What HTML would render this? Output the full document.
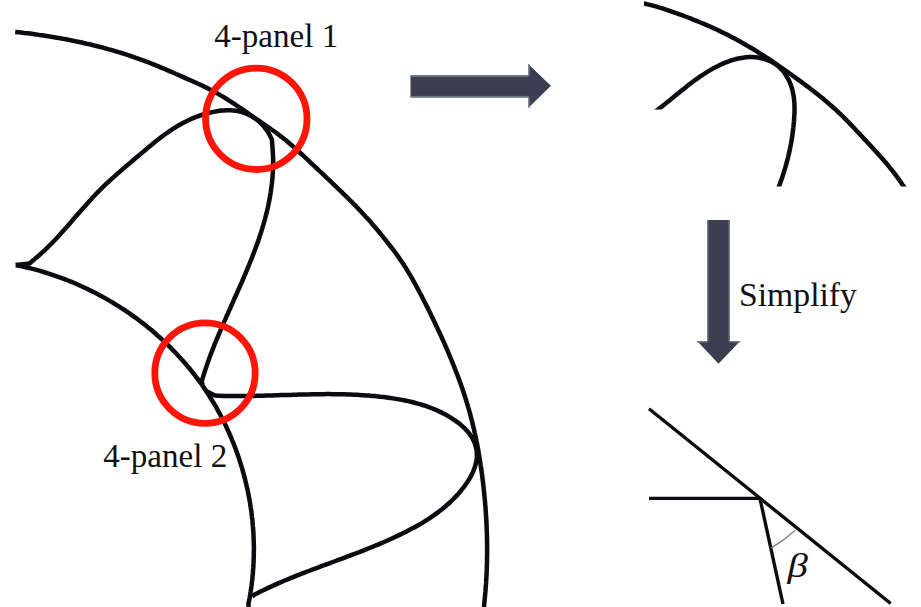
<!DOCTYPE html>
<html><head><meta charset="utf-8">
<style>
html,body{margin:0;padding:0;background:#fff;}
body{width:921px;height:607px;overflow:hidden;position:relative;}
svg{position:absolute;left:0;top:0;}
.t{font-family:"Liberation Serif",serif;fill:#111;}
</style></head><body>
<svg width="921" height="607" viewBox="0 0 921 607">
<g fill="none" stroke="#0b0b10" stroke-width="4.5" stroke-linecap="butt" stroke-linejoin="round">
<path d="M15.2 31.9 L18.2 32.2 L21.2 32.5 L24.2 32.9 L27.2 33.2 L30.2 33.6 L33.2 34.0 L36.1 34.4 L39.1 34.9 L42.1 35.3 L45.1 35.8 L48.1 36.2 L51.1 36.7 L54.0 37.2 L57.0 37.7 L60.0 38.2 L63.0 38.8 L65.9 39.3 L68.9 39.9 L71.9 40.5 L74.8 41.1 L77.8 41.7 L80.7 42.3 L83.7 43.0 L86.6 43.7 L89.6 44.3 L92.5 45.0 L95.4 45.8 L98.4 46.5 L101.3 47.2 L104.2 48.0 L107.1 48.8 L110.0 49.6 L112.9 50.4 L115.8 51.3 L118.7 52.2 L121.6 53.0 L124.5 53.9 L127.3 54.9 L130.2 55.8 L133.0 56.8 L135.9 57.8 L138.7 58.8 L141.6 59.8 L144.4 60.8 L147.2 61.9 L150.0 63.0 L152.8 64.1 L155.6 65.2 L158.4 66.4 L161.2 67.6 L163.9 68.7 L166.7 69.9 L169.5 71.1 L172.2 72.3 L175.0 73.5 L177.8 74.7 L180.5 75.9 L183.3 77.1 L186.0 78.4 L188.8 79.6 L191.6 80.8 L194.3 82.0 L197.0 83.3 L199.8 84.5 L202.5 85.8 L205.2 87.1 L207.9 88.4 L210.6 89.8 L213.2 91.2 L215.9 92.6 L218.5 94.1 L221.1 95.6 L223.7 97.2 L226.2 98.7 L228.8 100.3 L231.3 102.0 L233.9 103.6 L236.4 105.3 L238.9 107.0 L241.4 108.7 L243.9 110.4 L246.4 112.1 L248.9 113.8 L251.3 115.5 L253.8 117.3 L256.3 119.0 L258.8 120.7 L261.3 122.4 L263.8 124.1 L266.3 125.8 L268.8 127.5 L271.2 129.3 L273.7 131.0 L276.1 132.7 L278.5 134.5 L280.9 136.4 L283.3 138.2 L285.6 140.1 L287.9 142.0 L290.2 144.0 L292.5 145.9 L294.8 147.9 L297.0 150.0 L299.2 152.0 L301.5 154.0 L303.7 156.1 L305.9 158.1 L308.1 160.2 L310.3 162.3 L312.5 164.4 L314.7 166.4 L316.9 168.5 L319.1 170.6 L321.3 172.6 L323.5 174.7 L325.7 176.8 L327.9 178.9 L330.1 180.9 L332.2 183.0 L334.4 185.1 L336.6 187.2 L338.8 189.3 L341.0 191.4 L343.1 193.5 L345.3 195.6 L347.4 197.7 L349.6 199.8 L351.7 201.9 L353.8 204.1 L355.9 206.2 L358.0 208.4 L360.1 210.6 L362.1 212.8 L364.2 215.0 L366.2 217.2 L368.3 219.4 L370.3 221.6 L372.2 223.9 L374.2 226.2 L376.2 228.5 L378.1 230.8 L380.0 233.1 L381.9 235.4 L383.8 237.8 L385.7 240.1 L387.5 242.5 L389.4 244.9 L391.2 247.3 L393.1 249.6 L394.9 252.0 L396.7 254.5 L398.4 256.9 L400.1 259.4 L401.8 261.8 L403.5 264.3 L405.1 266.9 L406.7 269.4 L408.2 272.0 L409.8 274.5 L411.3 277.1 L412.8 279.7 L414.2 282.4 L415.7 285.0 L417.1 287.6 L418.5 290.3 L419.9 293.0 L421.4 295.6 L422.7 298.3 L424.1 301.0 L425.5 303.7 L426.9 306.4 L428.2 309.1 L429.6 311.8 L430.9 314.5 L432.2 317.2 L433.5 320.0 L434.8 322.7 L436.1 325.4 L437.4 328.2 L438.7 330.9 L440.0 333.7 L441.2 336.4 L442.5 339.2 L443.7 341.9 L444.9 344.7 L446.1 347.5 L447.3 350.2 L448.5 353.0 L449.7 355.8 L450.8 358.5 L452.0 361.3 L453.1 364.1 L454.2 366.9 L455.3 369.7 L456.4 372.5 L457.5 375.3 L458.5 378.1 L459.6 381.0 L460.6 383.8 L461.6 386.6 L462.6 389.5 L463.5 392.3 L464.5 395.2 L465.4 398.0 L466.3 400.9 L467.2 403.8 L468.0 406.6 L468.9 409.5 L469.7 412.4 L470.5 415.3 L471.2 418.3 L472.0 421.2 L472.7 424.1 L473.4 427.0 L474.1 430.0 L474.7 432.9 L475.4 435.9 L476.0 438.8 L476.6 441.8 L477.2 444.8 L477.8 447.7 L478.3 450.7 L478.8 453.7 L479.3 456.7 L479.8 459.7 L480.3 462.6 L480.7 465.6 L481.2 468.6 L481.6 471.6 L482.0 474.6 L482.4 477.6 L482.8 480.6 L483.1 483.6 L483.5 486.6 L483.8 489.6 L484.1 492.6 L484.4 495.6 L484.7 498.6 L485.0 501.6 L485.2 504.6 L485.5 507.6 L485.7 510.6 L485.9 513.7 L486.1 516.7 L486.3 519.7 L486.4 522.7 L486.6 525.7 L486.7 528.7 L486.8 531.7 L486.9 534.7 L487.0 537.7 L487.0 540.7 L487.1 543.7 L487.1 546.7 L487.1 549.7 L487.1 552.7 L487.1 555.7 L487.0 558.7 L487.0 561.8 L486.9 564.8 L486.8 567.8 L486.7 570.8 L486.6 573.8 L486.4 576.8 L486.2 579.8 L486.1 582.9 L485.8 585.9 L485.6 588.9 L485.4 591.9 L485.1 594.9 L484.8 598.0 L484.5 601.0 L484.2 604.0 L484.0 607.0"/>
<path d="M16.0 265.0 L18.9 265.7 L21.8 266.3 L24.8 267.0 L27.7 267.7 L30.7 268.4 L33.6 269.1 L36.5 269.9 L39.4 270.7 L42.3 271.6 L45.2 272.5 L48.1 273.4 L51.0 274.3 L53.9 275.3 L56.7 276.3 L59.6 277.3 L62.4 278.3 L65.2 279.4 L68.1 280.5 L70.9 281.6 L73.7 282.8 L76.5 284.0 L79.2 285.2 L82.0 286.5 L84.7 287.7 L87.5 289.0 L90.2 290.4 L92.9 291.7 L95.6 293.1 L98.3 294.5 L101.0 295.9 L103.6 297.4 L106.3 298.9 L108.9 300.4 L111.5 301.9 L114.1 303.5 L116.7 305.1 L119.3 306.7 L121.8 308.3 L124.4 310.0 L126.9 311.7 L129.4 313.4 L131.9 315.1 L134.3 316.9 L136.8 318.6 L139.2 320.5 L141.6 322.3 L144.0 324.1 L146.4 326.0 L148.7 327.9 L151.1 329.8 L153.4 331.8 L155.7 333.8 L157.9 335.8 L160.2 337.8 L162.4 339.8 L164.6 341.9 L166.8 344.0 L169.0 346.1 L171.1 348.2 L173.2 350.4 L175.3 352.5 L177.4 354.7 L179.4 356.9 L181.5 359.2 L183.5 361.4 L185.5 363.7 L187.4 366.0 L189.3 368.3 L191.2 370.7 L193.1 373.0 L195.0 375.4 L196.8 377.8 L198.6 380.2 L200.4 382.6 L202.1 385.1 L203.8 387.6 L205.5 390.1 L207.2 392.6 L208.8 395.1 L210.4 397.7 L212.0 400.2 L213.5 402.8 L215.1 405.4 L216.6 408.0 L218.0 410.7 L219.5 413.3 L220.9 416.0 L222.3 418.6 L223.6 421.3 L225.0 424.0 L226.3 426.8 L227.5 429.5 L228.8 432.3 L230.0 435.0 L231.2 437.8 L232.3 440.6 L233.5 443.4 L234.6 446.2 L235.6 449.0 L236.7 451.9 L237.7 454.7 L238.7 457.6 L239.6 460.4 L240.5 463.3 L241.4 466.2 L242.3 469.1 L243.1 472.0 L243.9 474.9 L244.7 477.8 L245.4 480.8 L246.1 483.7 L246.8 486.6 L247.5 489.6 L248.1 492.6 L248.7 495.5 L249.2 498.5 L249.8 501.5 L250.3 504.5 L250.7 507.5 L251.2 510.5 L251.6 513.5 L251.9 516.5 L252.3 519.5 L252.6 522.5 L252.8 525.5 L253.1 528.5 L253.3 531.5 L253.5 534.6 L253.6 537.6 L253.7 540.6 L253.8 543.6 L253.9 546.7 L253.9 549.7 L253.8 552.7 L253.8 555.8 L253.7 558.8 L253.6 561.8 L253.4 564.9 L253.3 567.9 L253.0 570.9 L252.8 573.9 L252.5 577.0 L252.2 580.0 L251.8 583.0 L251.5 586.0 L251.0 589.0 L250.6 592.0 L250.1 595.0 L249.6 598.1 L249.0 601.0 L248.4 604.0 L248.7 607.0"/>
<path d="M15.6 265 L29.7 263.4 L29.7 263.4 L31.9 261.3 L34.3 259.4 L36.6 257.4 L38.9 255.5 L41.2 253.4 L43.4 251.4 L45.6 249.3 L47.8 247.2 L50.0 245.0 L52.1 242.9 L54.2 240.7 L56.3 238.5 L58.4 236.3 L60.4 234.0 L62.4 231.8 L64.5 229.5 L66.5 227.3 L68.5 225.0 L70.5 222.7 L72.4 220.4 L74.4 218.1 L76.4 215.8 L78.4 213.5 L80.4 211.3 L82.4 209.0 L84.4 206.7 L86.4 204.4 L88.4 202.2 L90.5 199.9 L92.5 197.7 L94.6 195.5 L96.7 193.3 L98.8 191.2 L100.9 189.0 L103.1 186.9 L105.2 184.8 L107.4 182.7 L109.7 180.7 L111.9 178.6 L114.2 176.6 L116.4 174.6 L118.7 172.6 L121.0 170.6 L123.3 168.6 L125.6 166.6 L127.9 164.7 L130.3 162.7 L132.6 160.8 L134.9 158.8 L137.2 156.8 L139.5 154.9 L141.8 152.9 L144.2 151.0 L146.5 149.0 L148.8 147.1 L151.1 145.2 L153.5 143.2 L155.8 141.3 L158.2 139.5 L160.6 137.6 L163.0 135.8 L165.4 134.0 L167.9 132.3 L170.3 130.6 L172.9 128.9 L175.4 127.3 L178.0 125.7 L180.7 124.2 L183.3 122.8 L186.1 121.4 L188.8 120.1 L191.6 118.8 L194.4 117.6 L197.3 116.5 L200.2 115.5 L203.1 114.5 L206.0 113.7 L209.0 112.9 L212.0 112.2 L215.0 111.6 L218.0 111.0 L221.0 110.6 L224.0 110.4 L227.1 110.2 L230.1 110.2 L233.0 110.4 L236.0 110.8 L238.9 111.3 L241.8 112.1 L244.6 113.0 L247.4 114.1 L250.1 115.4 L252.7 116.9 L255.2 118.6 L257.6 120.4 L259.9 122.4 L262.1 124.6 L264.1 126.8 L266.0 129.3 L267.8 131.8 L269.4 134.5 L270.8 137.3 L272.0 140.0 L272.0 140.0 L272.1 142.8 L272.4 146.0 L272.6 149.2 L272.8 152.3 L273.0 155.4 L273.1 158.6 L273.1 161.7 L273.1 164.8 L273.0 167.9 L272.9 171.0 L272.7 174.0 L272.5 177.1 L272.2 180.2 L271.9 183.2 L271.5 186.2 L271.1 189.3 L270.7 192.3 L270.2 195.3 L269.7 198.3 L269.1 201.3 L268.5 204.3 L267.9 207.2 L267.2 210.2 L266.5 213.2 L265.7 216.1 L265.0 219.1 L264.1 222.0 L263.3 224.9 L262.4 227.8 L261.5 230.8 L260.6 233.7 L259.6 236.6 L258.7 239.5 L257.7 242.4 L256.6 245.3 L255.6 248.1 L254.5 251.0 L253.4 253.9 L252.3 256.8 L251.2 259.6 L250.0 262.5 L248.9 265.3 L247.7 268.2 L246.5 271.0 L245.3 273.9 L244.1 276.7 L242.9 279.5 L241.7 282.4 L240.4 285.2 L239.2 288.0 L237.9 290.9 L236.7 293.7 L235.4 296.5 L234.1 299.3 L232.9 302.2 L231.6 305.0 L230.4 307.8 L229.1 310.6 L227.9 313.4 L226.6 316.2 L225.4 319.1 L224.1 321.9 L222.9 324.7 L221.7 327.5 L220.5 330.3 L219.3 333.2 L218.1 336.0 L216.9 338.8 L215.8 341.6 L214.6 344.4 L213.5 347.3 L212.4 350.1 L211.3 352.9 L210.2 355.8 L209.2 358.6 L208.2 361.5 L207.2 364.3 L206.2 367.2 L205.2 370.0 L204.3 372.9 L203.4 375.8 L202.5 378.6 L201.7 381.5 L202.6 384.8"/>
<path d="M205.5 390.7 L214.4 395.2 L214.4 395.2 L217.4 395.7 L220.4 395.8 L223.5 395.9 L226.5 395.9 L229.5 396.0 L232.6 396.0 L235.6 396.0 L238.6 396.0 L241.6 396.0 L244.7 396.0 L247.7 396.0 L250.7 395.9 L253.8 395.9 L256.8 395.8 L259.8 395.7 L262.9 395.7 L265.9 395.6 L268.9 395.5 L272.0 395.4 L275.0 395.3 L278.0 395.2 L281.1 395.1 L284.1 395.1 L287.1 395.0 L290.2 394.9 L293.2 394.8 L296.2 394.7 L299.2 394.6 L302.3 394.5 L305.3 394.4 L308.3 394.4 L311.4 394.3 L314.4 394.3 L317.4 394.2 L320.5 394.2 L323.5 394.2 L326.5 394.1 L329.5 394.1 L332.6 394.2 L335.6 394.2 L338.6 394.2 L341.6 394.3 L344.7 394.3 L347.7 394.4 L350.7 394.5 L353.7 394.7 L356.8 394.8 L359.8 395.0 L362.8 395.2 L365.8 395.4 L368.8 395.6 L371.8 395.9 L374.9 396.1 L377.9 396.4 L380.9 396.8 L383.9 397.1 L386.9 397.5 L389.9 397.9 L392.9 398.4 L395.9 398.9 L398.9 399.4 L401.9 399.9 L404.9 400.5 L407.9 401.1 L410.9 401.8 L413.8 402.5 L416.7 403.3 L419.7 404.1 L422.6 405.0 L425.5 405.9 L428.3 406.9 L431.2 408.0 L434.0 409.1 L436.8 410.3 L439.6 411.6 L442.3 412.9 L445.0 414.3 L447.7 415.8 L450.3 417.4 L452.9 419.1 L455.5 420.8 L458.0 422.6 L460.5 424.6 L462.8 426.6 L465.0 428.7 L467.1 430.9 L469.1 433.2 L470.8 435.7 L472.4 438.2 L473.7 440.9 L474.9 443.6 L475.7 446.5 L476.4 449.3 L476.8 452.2 L476.9 455.1 L476.8 458.0 L476.4 460.9 L475.8 463.7 L475.0 466.6 L474.0 469.4 L472.9 472.1 L471.6 474.9 L470.1 477.6 L468.6 480.2 L466.9 482.8 L465.1 485.3 L463.2 487.8 L461.3 490.2 L459.3 492.6 L457.3 494.9 L455.2 497.1 L453.1 499.3 L450.9 501.5 L448.7 503.5 L446.4 505.5 L444.1 507.5 L441.7 509.4 L439.3 511.3 L436.9 513.1 L434.4 514.9 L431.9 516.6 L429.4 518.3 L426.9 520.0 L424.3 521.6 L421.7 523.2 L419.0 524.7 L416.4 526.2 L413.7 527.7 L411.0 529.1 L408.3 530.5 L405.6 531.9 L402.9 533.3 L400.1 534.6 L397.4 535.9 L394.6 537.2 L391.9 538.5 L389.1 539.7 L386.3 541.0 L383.5 542.2 L380.7 543.4 L378.0 544.6 L375.2 545.7 L372.4 546.9 L369.5 548.0 L366.7 549.1 L363.9 550.3 L361.1 551.4 L358.3 552.5 L355.5 553.5 L352.6 554.6 L349.8 555.7 L347.0 556.7 L344.1 557.8 L341.3 558.9 L338.5 559.9 L335.6 561.0 L332.8 562.0 L329.9 563.1 L327.1 564.1 L324.3 565.2 L321.4 566.2 L318.6 567.3 L315.8 568.3 L312.9 569.4 L310.1 570.5 L307.3 571.5 L304.5 572.6 L301.6 573.7 L298.8 574.8 L296.0 575.9 L293.2 577.1 L290.4 578.2 L287.6 579.4 L284.8 580.5 L282.0 581.7 L279.3 582.9 L276.5 584.1 L273.7 585.4 L271.0 586.6 L268.2 587.9 L265.5 589.2 L262.7 590.5 L260.0 591.8 L257.3 593.2 L254.6 594.6 L252.1 596.4"/>
</g>
<defs><clipPath id="rc"><path d="M644 -10 H930 V186.5 H720 V109.5 H644 Z"/></clipPath></defs>
<g fill="none" stroke="#0b0b10" stroke-width="4.5" clip-path="url(#rc)">
<path d="M639.0 2.6 L642.0 3.2 L645.0 3.8 L647.9 4.4 L650.9 5.1 L653.8 5.9 L656.7 6.7 L659.6 7.6 L662.5 8.4 L665.3 9.4 L668.2 10.3 L671.1 11.3 L673.9 12.3 L676.8 13.3 L679.6 14.3 L682.5 15.4 L685.3 16.5 L688.1 17.5 L691.0 18.6 L693.8 19.8 L696.6 20.9 L699.4 22.0 L702.2 23.2 L705.0 24.4 L707.8 25.6 L710.6 26.8 L713.4 28.1 L716.1 29.3 L718.9 30.6 L721.6 31.9 L724.3 33.3 L727.0 34.6 L729.7 36.0 L732.4 37.4 L735.1 38.8 L737.7 40.3 L740.4 41.7 L743.0 43.2 L745.6 44.7 L748.2 46.3 L750.8 47.8 L753.4 49.3 L756.0 50.9 L758.6 52.5 L761.1 54.1 L763.7 55.7 L766.2 57.4 L768.8 59.0 L771.3 60.7 L773.8 62.4 L776.3 64.1 L778.8 65.8 L781.3 67.5 L783.8 69.3 L786.3 71.0 L788.7 72.8 L791.2 74.5 L793.6 76.3 L796.1 78.1 L798.5 79.9 L801.0 81.7 L803.4 83.5 L805.9 85.3 L808.3 87.1 L810.7 89.0 L813.1 90.8 L815.5 92.7 L817.9 94.6 L820.2 96.4 L822.6 98.3 L824.9 100.3 L827.2 102.2 L829.5 104.2 L831.8 106.2 L834.1 108.2 L836.3 110.2 L838.5 112.3 L840.7 114.4 L842.8 116.5 L845.0 118.6 L847.1 120.8 L849.2 122.9 L851.3 125.1 L853.4 127.3 L855.4 129.5 L857.5 131.7 L859.6 133.9 L861.6 136.1 L863.7 138.4 L865.8 140.6 L867.8 142.8 L869.9 145.0 L872.0 147.3 L874.0 149.5 L876.1 151.7 L878.1 154.0 L880.1 156.2 L882.2 158.5 L884.1 160.8 L886.1 163.1 L888.1 165.4 L890.0 167.8 L891.9 170.1 L893.7 172.5 L895.6 174.9 L897.4 177.3 L899.1 179.7 L900.9 182.2 L902.5 184.7 L904.2 187.2 L905.5 190.0"/>
<path d="M655.0 111.8 L657.4 109.9 L659.9 108.0 L662.4 106.1 L664.8 104.2 L667.2 102.3 L669.6 100.4 L671.9 98.4 L674.3 96.5 L676.7 94.6 L679.0 92.7 L681.3 90.8 L683.7 88.9 L686.1 87.0 L688.4 85.1 L690.8 83.3 L693.2 81.5 L695.7 79.7 L698.2 77.9 L700.7 76.2 L703.2 74.5 L705.8 72.8 L708.4 71.2 L711.1 69.6 L713.8 68.1 L716.6 66.7 L719.4 65.3 L722.3 63.9 L725.2 62.7 L728.1 61.6 L731.0 60.5 L734.0 59.6 L737.0 58.8 L740.0 58.2 L743.1 57.7 L746.1 57.3 L749.1 57.1 L752.2 57.1 L755.2 57.3 L758.2 57.6 L761.2 58.2 L764.1 58.9 L767.0 59.9 L769.7 61.0 L772.4 62.3 L775.0 63.9 L777.4 65.6 L779.6 67.5 L781.7 69.6 L783.6 71.8 L785.3 74.2 L786.9 76.8 L788.4 79.4 L789.7 82.2 L790.8 85.0 L791.8 87.9 L792.6 90.9 L793.2 93.9 L793.8 97.0 L794.1 100.1 L794.4 103.2 L794.5 106.3 L794.5 109.4 L794.5 112.5 L794.3 115.7 L794.1 118.8 L793.9 121.9 L793.6 125.0 L793.3 128.0 L792.9 131.1 L792.5 134.1 L792.1 137.2 L791.6 140.2 L791.1 143.2 L790.5 146.1 L789.9 149.1 L789.3 152.1 L788.6 155.0 L787.9 158.0 L787.1 160.9 L786.3 163.8 L785.5 166.8 L784.6 169.7 L783.7 172.6 L782.8 175.5 L781.8 178.4 L780.8 181.3 L779.8 184.2 L778.7 187.1 L777.6 190.0"/>
</g>
<g fill="none" stroke="#0b0b10" stroke-width="3.4" stroke-linecap="butt">
<path d="M649 408.8 L890.7 603.5"/>
<path d="M649 498.4 L760 498.4"/>
<path d="M760 498.6 L783 604"/>
</g>
<path d="M771.4 548 Q783.5 540.5 795.4 530.2" fill="none" stroke="#7a8598" stroke-width="1.5"/>
<g fill="none" stroke="#ff1508" stroke-width="6.8">
<circle cx="256.3" cy="118.8" r="50.7"/>
<circle cx="205" cy="373.1" r="50.2"/>
</g>
<g fill="#3d3d51">
<path d="M410.5 75.3 H528.7 V64.4 L550.9 85.8 L528.7 107.4 V97.5 H410.5 Z"/>
<path d="M707 220 H730 V341.3 H740 L718.5 363.7 L697.3 341.3 H707 Z"/>
</g>
<g fill="#737a86">
<rect x="410.5" y="75.3" width="118.2" height="1.6"/>
<rect x="410.5" y="95.9" width="118.2" height="1.6"/>
<rect x="528.2" y="64" width="1.5" height="11.5"/>
<rect x="528.2" y="97.3" width="1.5" height="10.5"/>
<rect x="707" y="220" width="1.5" height="121.5"/>
<rect x="728.5" y="220" width="1.5" height="121.5"/>
<rect x="697" y="341" width="10.5" height="1.5"/>
<rect x="729.5" y="341" width="10.8" height="1.5"/>
</g>
<text class="t" x="214.2" y="46.9" font-size="33.1">4-panel 1</text>
<text class="t" x="103.2" y="466.5" font-size="33.1">4-panel 2</text>
<text class="t" x="739" y="306.3" font-size="33.7">Simplify</text>
<text class="t" transform="translate(787.5 577) scale(1.2 1)" font-size="34" font-style="italic">β</text>
</svg>
</body></html>
